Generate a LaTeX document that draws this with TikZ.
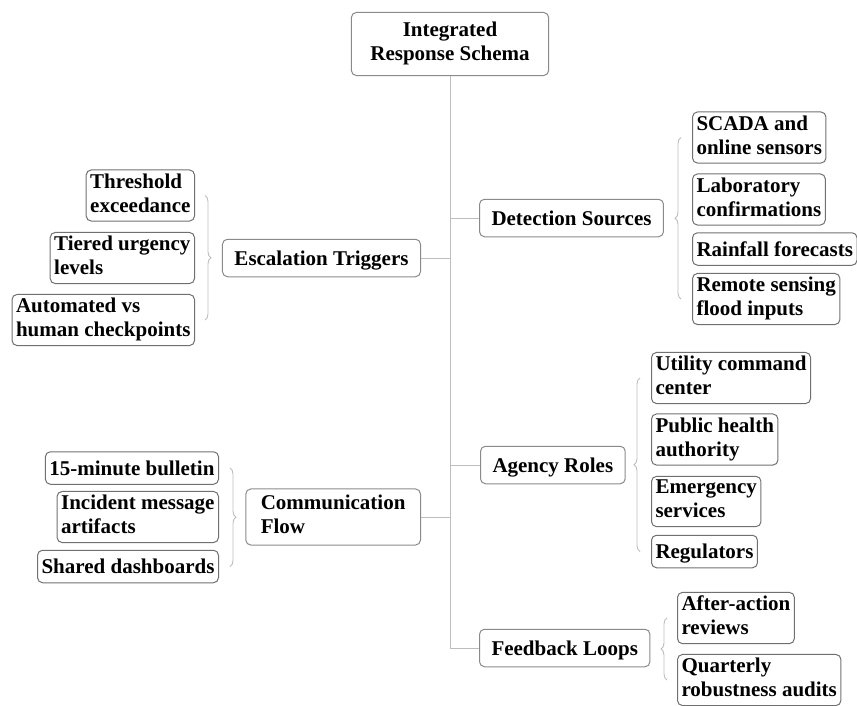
\documentclass[tikz,border=0pt]{standalone}
\usepackage{fontspec}
\setmainfont{Liberation Serif}
\usepackage{xcolor}
\usepackage{tikz}
\usetikzlibrary{calc,decorations.pathreplacing}
\definecolor{linkGray}{HTML}{BDBDBD}
\definecolor{boxGray}{HTML}{8A8A8A}
\definecolor{leafGray}{HTML}{707070}
\newcommand{\topstrut}{\rule{0pt}{20pt}}
\newcommand{\botstrut}{\rule[-5.5pt]{0pt}{5.5pt}}

\begin{document}
\begin{tikzpicture}[x=1pt, y=-1pt,
  font=\fontsize{21}{24}\selectfont\bfseries,
  base/.style={draw, rounded corners=5pt, align=left, line width=1pt,
    execute at begin node=\topstrut, execute at end node=\botstrut},
  rootbox/.style={base, draw=boxGray, align=center, inner xsep=19pt, inner ysep=9.5pt},
  topic/.style={base, draw=boxGray, inner xsep=12pt, inner ysep=6pt},
  leaf/.style={base, draw=leafGray, inner xsep=4pt, inner ysep=3.5pt},
  link/.style={linkGray, line width=1pt},
  grp/.style={linkGray, line width=0.9pt, decorate, decoration={brace, amplitude=6pt}}]
\useasboundingbox (0,0) rectangle (857,705);
% root
\node[rootbox] (root) at (450,44) {Integrated\\Response Schema};
% main topics
\node[topic, anchor=east] (esc) at (421,258) {Escalation Triggers};
\node[topic, anchor=east, inner xsep=15pt] (com) at (421,517) {Communication\\Flow};
\node[topic, anchor=west] (det) at (479,218) {Detection Sources};
\node[topic, anchor=west] (agy) at (480,465) {Agency Roles};
\node[topic, anchor=west] (fbk) at (479,648) {Feedback Loops};
% trunk and branches
\draw[link] (root.south) |- (fbk.west);
\draw[link] (esc.east) -- (esc.east -| root.south);
\draw[link] (com.east) -- (com.east -| root.south);
\draw[link] (det.west) -- (det.west -| root.south);
\draw[link] (agy.west) -- (agy.west -| root.south);
% escalation triggers
\node[leaf, anchor=east] (thr) at (195,195.5) {Threshold\\exceedance};
\node[leaf, anchor=east] (tie) at (195,258) {Tiered urgency\\levels};
\node[leaf, anchor=east] (aut) at (195,320) {Automated vs\\human checkpoints};
\draw[grp] ([xshift=10pt]thr.east) -- ([xshift=10pt]aut.east);
% communication flow
\node[leaf, anchor=east] (bul) at (219,468) {15-minute bulletin};
\node[leaf, anchor=east] (inc) at (219,517) {Incident message\\artifacts};
\node[leaf, anchor=east] (sha) at (219,566.5) {Shared dashboards};
\draw[grp] ([xshift=11pt]bul.east) -- ([xshift=11pt]sha.east);
% detection sources
\node[leaf, anchor=west] (sca) at (692,137.5) {SCADA and\\online sensors};
\node[leaf, anchor=west] (lab) at (692,199.5) {Laboratory\\confirmations};
\node[leaf, anchor=west] (rai) at (692,249) {Rainfall forecasts};
\node[leaf, anchor=west] (rem) at (692,299) {Remote sensing\\flood inputs};
\draw[grp] ([xshift=-11pt]rem.west) -- ([xshift=-11pt]sca.west);
% agency roles
\node[leaf, anchor=west] (uti) at (651,378) {Utility command\\center};
\node[leaf, anchor=west] (pub) at (651,439.5) {Public health\\authority};
\node[leaf, anchor=west] (eme) at (651,501.5) {Emergency\\services};
\node[leaf, anchor=west] (reg) at (651,551.5) {Regulators};
\draw[grp] ([xshift=-11pt]reg.west) -- ([xshift=-11pt]uti.west);
% feedback loops
\node[leaf, anchor=west] (aft) at (677,618) {After-action\\reviews};
\node[leaf, anchor=west] (qua) at (677,680) {Quarterly\\robustness audits};
\draw[grp] ([xshift=-10pt]qua.west) -- ([xshift=-10pt]aft.west);
\end{tikzpicture}
\end{document}
